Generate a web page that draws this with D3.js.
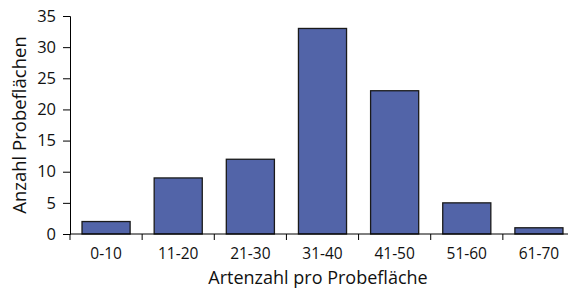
<!DOCTYPE html>
<html><head><meta charset="utf-8">
<script src="https://cdn.jsdelivr.net/npm/d3@7"></script>
<style>body{margin:0;background:#fff}svg{display:block}text{font-family:"Open Sans",sans-serif;fill:#111}</style>
</head><body><svg id="c" width="569" height="289"></svg>
<script>
const categories = ["0-10","11-20","21-30","31-40","41-50","51-60","61-70"];
const values = [2, 9, 12, 33, 23, 5, 1];
const yTicks = [0,5,10,15,20,25,30,35];

const svg = d3.select("#c");
const x = d3.scaleBand().domain(categories).range([70, 575]).paddingInner(1/3).paddingOuter(1/6);
const y = d3.scaleLinear().domain([0,35]).range([234, 16]);

svg.selectAll("rect.bar").data(values).join("rect")
  .attr("class","bar")
  .attr("x",(d,i)=>x(categories[i]))
  .attr("y",d=>y(d))
  .attr("width",x.bandwidth())
  .attr("height",d=>y(0)-y(d))
  .attr("fill","#5264a8").attr("stroke","#1a1a1a").attr("stroke-width",1.3);

const ya = svg.append("g").attr("transform","translate(70,0)")
  .call(d3.axisLeft(y).tickValues(yTicks).tickSize(7).tickPadding(7));
ya.selectAll("text").style("font-size","16.5px").style("font-family","'Open Sans',sans-serif").attr("fill","#111");
ya.select(".domain").attr("stroke","#000");
ya.selectAll(".tick line").attr("stroke","#000");

// x axis with ticks at band boundaries
const xg = svg.append("g");
xg.append("line").attr("x1",70).attr("x2",568).attr("y1",234).attr("y2",234).attr("stroke","#000");
const step = x.step();
const bounds = categories.map((c,i)=>x(c) - x.paddingInner()*step/2);
xg.selectAll("line.t").data(bounds).join("line").attr("class","t")
  .attr("x1",d=>d).attr("x2",d=>d).attr("y1",234).attr("y2",240).attr("stroke","#000");
xg.selectAll("text").data(categories).join("text")
  .attr("x",d=>x(d)+x.bandwidth()/2).attr("y",259)
  .attr("text-anchor","middle").style("font-size","15.5px").text(d=>d);

svg.append("text").attr("x",318).attr("y",284).attr("text-anchor","middle")
  .style("font-size","18px").text("Artenzahl pro Probefläche");
svg.append("text").attr("transform","translate(26,125) rotate(-90)").attr("text-anchor","middle")
  .style("font-size","18.5px").text("Anzahl Probeflächen");
</script></body></html>
